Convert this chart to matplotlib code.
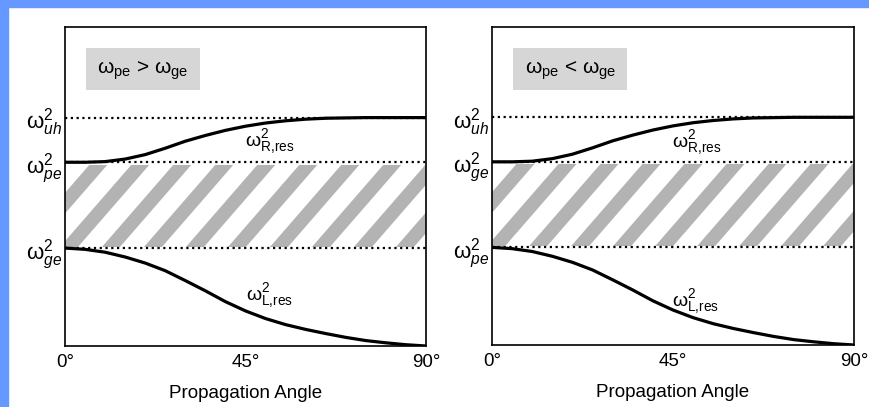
import numpy as np
import matplotlib
matplotlib.use("Agg")
import matplotlib.pyplot as plt
from matplotlib.patches import Rectangle, Polygon

plt.rcParams['font.family'] = ['Liberation Sans', 'DejaVu Sans']
plt.rcParams['mathtext.fontset'] = 'custom'
plt.rcParams['mathtext.rm'] = 'Liberation Sans'
plt.rcParams['mathtext.it'] = 'Liberation Sans:italic'
plt.rcParams['mathtext.bf'] = 'Liberation Sans:bold'

# ---- data (normalised omega^2) ----
angles = [0, 5, 10, 15, 20, 25, 30, 35, 40, 45, 50, 55, 60, 65, 70, 75, 80, 85, 90]
r_res = [0.576, 0.576, 0.578, 0.586, 0.600, 0.620, 0.642, 0.660, 0.676, 0.689,
         0.699, 0.706, 0.711, 0.714, 0.715, 0.716, 0.716, 0.716, 0.716]
l_res = [0.307, 0.303, 0.294, 0.279, 0.260, 0.236, 0.205, 0.173, 0.139, 0.110,
         0.086, 0.067, 0.052, 0.039, 0.027, 0.017, 0.010, 0.004, 0.000]
level_uh = 0.716
level_mid = 0.576
level_low = 0.307

xticks = [0, 45, 90]
xtick_labels = ['0°', '45°', '90°']
xlabel = 'Propagation Angle'

panel_titles = [r'$\mathrm{\omega}_{\mathrm{pe}}$ > $\mathrm{\omega}_{\mathrm{ge}}$',
                r'$\mathrm{\omega}_{\mathrm{pe}}$ < $\mathrm{\omega}_{\mathrm{ge}}$']
ylabels_left = [r'$\mathrm{\omega}^{2}_{uh}$', r'$\mathrm{\omega}^{2}_{pe}$', r'$\mathrm{\omega}^{2}_{ge}$']
ylabels_right = [r'$\mathrm{\omega}^{2}_{uh}$', r'$\mathrm{\omega}^{2}_{ge}$', r'$\mathrm{\omega}^{2}_{pe}$']
r_label = r'$\mathrm{\omega}^{2}_{\mathrm{R{,}res}}$'
l_label = r'$\mathrm{\omega}^{2}_{\mathrm{L{,}res}}$'

W, H = 870, 407
fig = plt.figure(figsize=(W / 100, H / 100), dpi=100)
fig.patch.set_facecolor('white')
blue = '#6699ff'
fig.add_artist(Rectangle((0, 1 - 7 / H), 1, 7 / H, transform=fig.transFigure, color=blue, zorder=0))
fig.add_artist(Rectangle((0, 0), 8 / W, 1, transform=fig.transFigure, color=blue, zorder=0))

panels = [
    dict(rect=[65 / W, (H - 346) / H, 361 / W, 319 / H], ylabels=ylabels_left,
         title=panel_titles[0], rpos=(44.9, 0.641), lpos=(45.0, 0.157)),
    dict(rect=[492 / W, (H - 345) / H, 362 / W, 318 / H], ylabels=ylabels_right,
         title=panel_titles[1], rpos=(44.8, 0.637), lpos=(44.8, 0.137)),
]

for p in panels:
    ax = fig.add_axes(p['rect'])
    ax.set_xlim(0, 90)
    ax.set_ylim(0, 1)
    for s in ax.spines.values():
        s.set_linewidth(1.2)
        s.set_color('black')

    # diagonal stripes in the band between the two lower levels
    wpx = p['rect'][2] * W
    hpx = p['rect'][3] * H
    sx = wpx / 90.0
    sy = hpx / 1.0
    band_h = (level_mid - level_low) * sy
    period, width, phase = 42.0, 18.0, 36.0
    slope = np.tan(np.radians(49))
    dx_top = band_h / slope
    clip = Rectangle((0, level_low + 0.004), 90, level_mid - level_low - 0.012,
                     transform=ax.transData, facecolor='none', edgecolor='none')
    ax.add_patch(clip)
    k0 = int(np.floor((-phase - dx_top) / period)) - 1
    k1 = int(np.ceil((wpx - phase) / period)) + 1
    for k in range(k0, k1 + 1):
        x0 = phase + k * period
        pts_px = [(x0, 0), (x0 + width, 0), (x0 + width + dx_top, band_h), (x0 + dx_top, band_h)]
        pts = [(px / sx, level_low + py / sy) for px, py in pts_px]
        poly = Polygon(pts, closed=True, facecolor='#b3b3b3', edgecolor='none', zorder=1)
        ax.add_patch(poly)
        poly.set_clip_path(clip)

    for lv in (level_uh, level_mid, level_low):
        ax.axhline(lv, color='black', lw=1.6, linestyle=(0, (1, 1.6)), dash_capstyle='butt', zorder=2)

    ax.plot(angles, r_res, color='black', lw=2.3, solid_capstyle='butt', zorder=3)
    ax.plot(angles, l_res, color='black', lw=2.3, solid_capstyle='butt', zorder=3)

    ax.text(p['rpos'][0], p['rpos'][1], r_label, fontsize=14, ha='left', va='center', zorder=4)
    ax.text(p['lpos'][0], p['lpos'][1], l_label, fontsize=14, ha='left', va='center', zorder=4)

    # title box
    ax.add_patch(Rectangle((0.058, 0.803), 0.316, 0.131, transform=ax.transAxes,
                           facecolor='#d6d6d6', edgecolor='none', zorder=2))
    ax.text(0.216, 0.862, p['title'], transform=ax.transAxes, fontsize=15,
            ha='center', va='center', zorder=4)

    ax.set_yticks([level_uh, level_mid, level_low])
    ax.set_yticklabels(p['ylabels'], fontsize=16)
    ax.tick_params(axis='y', length=0, pad=2)
    ax.set_xticks(xticks)
    ax.set_xticklabels(xtick_labels, fontsize=13.5)
    ax.tick_params(axis='x', length=0, pad=6)
    ax.set_xlabel(xlabel, fontsize=13.5, labelpad=10)

fig.savefig('out.png', dpi=100, facecolor=fig.get_facecolor())
